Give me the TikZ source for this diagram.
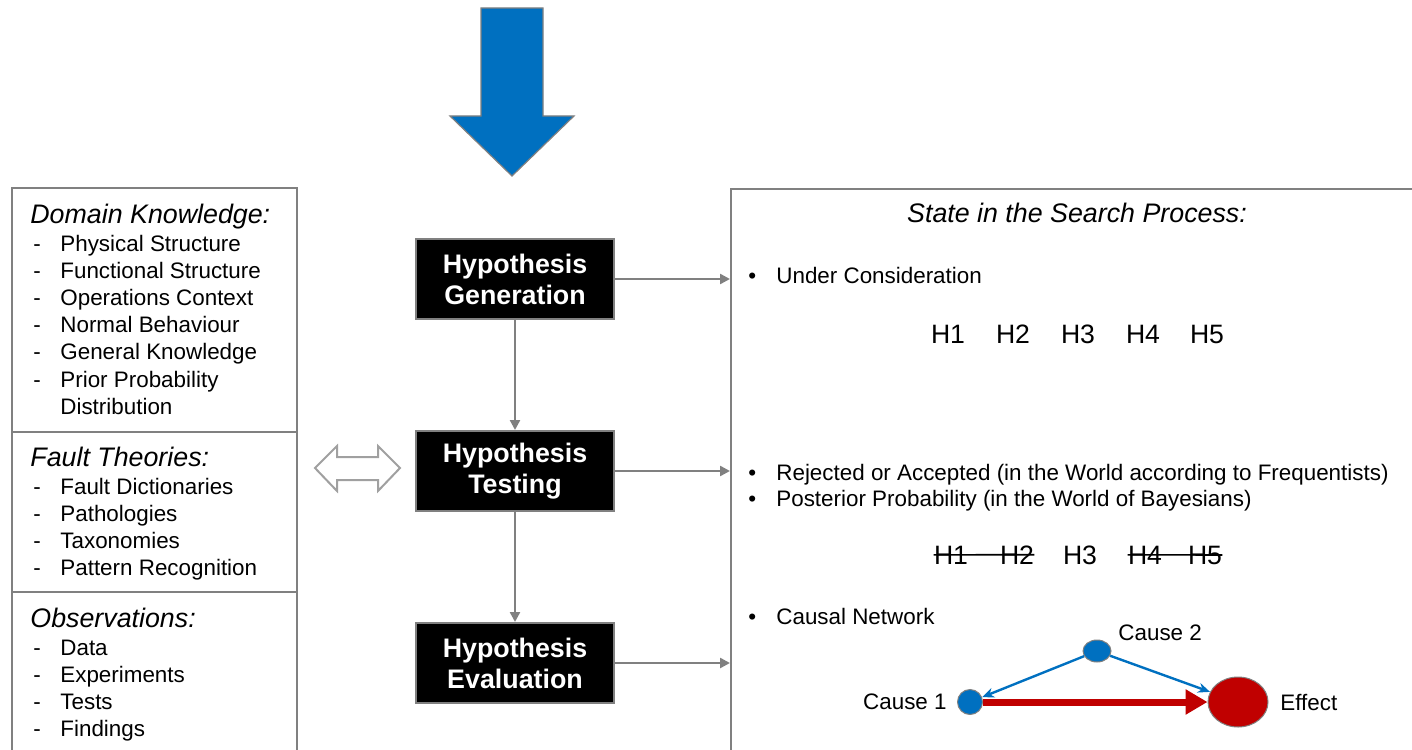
\documentclass[tikz,border=0pt]{standalone}
\usepackage{fontspec}
\setmainfont{Liberation Sans}
\usetikzlibrary{arrows.meta, positioning, shapes.geometric}
\definecolor{lineGray}{HTML}{808080}
\definecolor{lightGray}{HTML}{A0A0A0}
\definecolor{arrowBlue}{HTML}{0070C0}
\definecolor{effectRed}{HTML}{C00000}

\begin{document}
\begin{tikzpicture}[x=0.5pt,y=-0.5pt,node distance=96pt,on grid,
    every node/.style={inner sep=0pt,font=\fontsize{11.2}{13.6}\selectfont}]
  \tikzstyle{hypBox}=[rectangle,draw=lineGray,line width=1pt,fill=black,text=white,minimum width=99pt,minimum height=40pt,align=center,font=\fontsize{13.4}{15.5}\selectfont\bfseries]
  \tikzstyle{panel}=[draw=lineGray,line width=1.2pt]
  \tikzstyle{flow}=[draw=lineGray,line width=1.2pt,-{Triangle[length=5pt,width=5pt]}]
  \tikzstyle{heading}=[font=\fontsize{13.4}{16}\selectfont\itshape]
  \tikzstyle{hyp}=[font=\fontsize{13.3}{16}\selectfont]
  \tikzstyle{causeDot}=[ellipse,draw=lineGray,line width=0.5pt,fill=arrowBlue]
  \tikzstyle{causeArrow}=[draw=arrowBlue,line width=1.2pt,-{Stealth[length=6pt,width=5pt]}]
  \useasboundingbox (0,0) rectangle (1412,749);

  % Big arrow on top
  \draw[draw=lineGray,line width=0.6pt,fill=arrowBlue] (481,8) -- (543,8) -- (543,116) -- (574,116)
    -- (512,176) -- (450,116) -- (481,116) -- cycle;

  % Knowledge panel
  \draw[panel] (12,188) rectangle (297,760);
  \draw[panel] (12,432) -- (297,432);
  \draw[panel] (12,592) -- (297,592);

  \node[heading,anchor=base west] (dkTitle) at (30,223) {Domain Knowledge:};
  \node[anchor=base west] (dkList) at (33,251) {\begin{tabular}[t]{@{}p{13.5pt}@{}l@{}}
    - & Physical Structure\\
    - & Functional Structure\\
    - & Operations Context\\
    - & Normal Behaviour\\
    - & General Knowledge\\
    - & Prior Probability\\
      & Distribution
  \end{tabular}};
  \node[heading,anchor=base west] (ftTitle) at (30,466) {Fault Theories:};
  \node[anchor=base west] (ftList) at (33,494) {\begin{tabular}[t]{@{}p{13.5pt}@{}l@{}}
    - & Fault Dictionaries\\
    - & Pathologies\\
    - & Taxonomies\\
    - & Pattern Recognition
  \end{tabular}};
  \node[heading,anchor=base west] (obTitle) at (30,627) {Observations:};
  \node[anchor=base west] (obList) at (33,655) {\begin{tabular}[t]{@{}p{13.5pt}@{}l@{}}
    - & Data\\
    - & Experiments\\
    - & Tests\\
    - & Findings
  \end{tabular}};

  % Two-way arrow
  \draw[draw=lightGray,line width=1pt] (315,468) -- (337,446) -- (337,457) -- (378,457) -- (378,446)
    -- (400,468) -- (378,491) -- (378,480) -- (337,480) -- (337,491) -- cycle;

  % Process
  \node[hypBox] (gen) at (515,279) {Hypothesis\\Generation};
  \node[hypBox] (test) [below=of gen] {Hypothesis\\Testing};
  \node[hypBox] (eval) [below=of test] {Hypothesis\\Evaluation};

  % State panel
  \node[panel,anchor=north west,minimum width=345pt,minimum height=286pt] (statePanel) at (730,188) {};
  \node[heading,anchor=base] (stTitle) at (1077,222) {State in the Search Process:};

  \draw[flow] (gen) -- (test);
  \draw[flow] (test) -- (eval);
  \draw[flow] (gen.east) -- (gen.east -| statePanel.west);
  \draw[flow] (test.east) -- (test.east -| statePanel.west);
  \draw[flow] (eval.east) -- (eval.east -| statePanel.west);

  \node[anchor=base west] (ucItem) at (748,283) {\begin{tabular}[t]{@{}p{14pt}@{}l@{}}
    \textbullet & Under Consideration
  \end{tabular}};
  \node[hyp,anchor=base] (h1) at (948,343) {H1};
  \node[hyp,anchor=base] (h2) at (1013,343) {H2};
  \node[hyp,anchor=base] (h3) at (1078,343) {H3};
  \node[hyp,anchor=base] (h4) at (1143,343) {H4};
  \node[hyp,anchor=base] (h5) at (1207,343) {H5};

  \node[anchor=base west] (raItem) at (748,480) {\begin{tabular}[t]{@{}p{14pt}@{}l@{}}
    \textbullet & Rejected or Accepted (in the World according to Frequentists)\\[-0.6pt]
    \textbullet & Posterior Probability (in the World of Bayesians)
  \end{tabular}};
  \node[hyp,anchor=base] (r1) at (951,564) {H1};
  \node[hyp,anchor=base] (r2) at (1017,564) {H2};
  \node[hyp,anchor=base] (r3) at (1080,564) {H3};
  \node[hyp,anchor=base] (r4) at (1145,564) {H4};
  \node[hyp,anchor=base] (r5) at (1205,564) {H5};
  \draw[line width=0.8pt] (r1.west) -- (r2.east);
  \draw[line width=0.8pt] (r4.west) -- (r5.east);

  \node[anchor=base west] (cnItem) at (748,624) {\begin{tabular}[t]{@{}p{14pt}@{}l@{}}
    \textbullet & Causal Network
  \end{tabular}};

  % Causal network
  \node[causeDot,minimum width=14pt,minimum height=11pt] (c2) at (1097,651) {};
  \node[causeDot,minimum width=12.5pt,minimum height=12.5pt] (c1) at (970,702) {};
  \node[ellipse,draw=lineGray,line width=0.5pt,fill=effectRed,minimum width=30pt,minimum height=25pt] (effect) at (1238,702) {};
  \node[anchor=west] (c2Label) at (1118,633) {Cause 2};
  \node[anchor=east] (c1Label) at (947,702) {Cause 1};
  \node[anchor=west] (effLabel) at (1280,702) {Effect};

  \draw[causeArrow] (c2) -- (c1);
  \draw[causeArrow] (c2) -- (effect);
  \draw[draw=effectRed,line width=3.5pt,-{Triangle[length=11pt,width=12pt]}] (c1) -- (effect);
\end{tikzpicture}
\end{document}
